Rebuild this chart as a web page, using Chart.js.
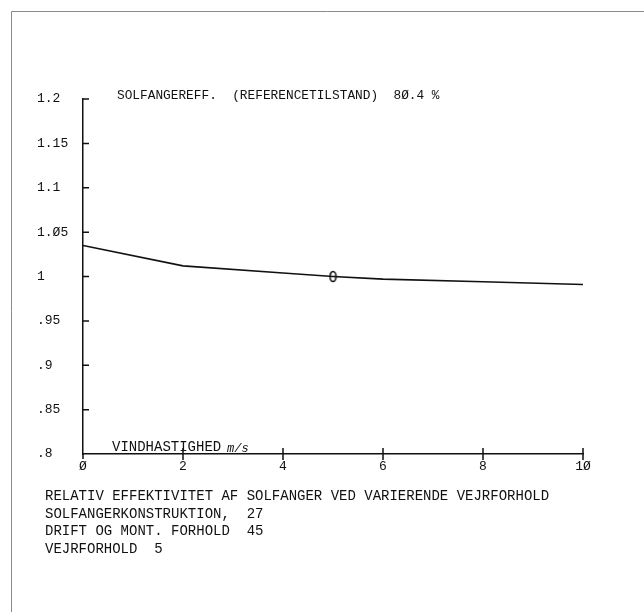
<!DOCTYPE html>
<html>
<head>
<meta charset="utf-8">
<script src="https://cdn.jsdelivr.net/npm/chart.js@4"></script>
<style>
  html, body { margin: 0; padding: 0; background: #fff; }
  #wrap { position: relative; width: 644px; height: 612px; }
</style>
</head>
<body>
<div id="wrap"><canvas id="chart"></canvas></div>
<script>
// vindhastighed (m/s) og relativ effektivitet
const speeds = [0, 2, 4, 5, 6, 8, 10];
const efficiency = [1.035, 1.012, 1.004, 1.0, 0.997, 0.994, 0.991];
const refSpeed = [5];
const refValue = [1.0];
const xTickValues = [0, 2, 4, 6, 8, 10];
const xTickLabels = ['Ø', '2', '4', '6', '8', '1Ø'];
const yTickValues = [1.2, 1.15, 1.1, 1.05, 1, 0.95, 0.9, 0.85, 0.8];
const yTickLabels = ['1.2', '1.15', '1.1', '1.Ø5', '1', '.95', '.9', '.85', '.8'];
const titleText = 'SOLFANGEREFF.  (REFERENCETILSTAND)  8Ø.4 %';
const footerLines = [
  'RELATIV EFFEKTIVITET AF SOLFANGER VED VARIERENDE VEJRFORHOLD',
  'SOLFANGERKONSTRUKTION,  27',
  'DRIFT OG MONT. FORHOLD  45',
  'VEJRFORHOLD  5'
];

const ink = '#111';
const mono = '"Liberation Mono", "DejaVu Sans Mono", monospace';

// lille oval markør (som et "0")
const oval = document.createElement('canvas');
oval.width = 9; oval.height = 13;
const oc = oval.getContext('2d');
oc.strokeStyle = ink;
oc.lineWidth = 1.6;
oc.beginPath();
oc.ellipse(4.5, 6.5, 3, 5, 0, 0, Math.PI * 2);
oc.stroke();

// tegner tickmærker, titel, tekst og ramme
const decor = {
  id: 'decor',
  afterDraw(chart) {
    const ctx = chart.ctx;
    const xs = chart.scales.x, ys = chart.scales.y;
    const x0 = xs.getPixelForValue(0);
    const yBase = ys.getPixelForValue(0.8);
    ctx.save();
    ctx.strokeStyle = ink;
    ctx.lineWidth = 1.5;
    ctx.beginPath();
    yTickValues.forEach(v => {
      if (v === 0.8) return;
      const y = ys.getPixelForValue(v);
      ctx.moveTo(x0, y);
      ctx.lineTo(x0 + 6, y);
    });
    xTickValues.forEach(v => {
      if (v === 0) return;
      const x = xs.getPixelForValue(v);
      ctx.moveTo(x, yBase - 6);
      ctx.lineTo(x, yBase + 6);
    });
    ctx.moveTo(x0, yBase);
    ctx.lineTo(x0, yBase + 5);
    ctx.stroke();

    // ramme
    ctx.strokeStyle = '#8a8a8a';
    ctx.lineWidth = 1;
    ctx.beginPath();
    ctx.moveTo(11.5, 612);
    ctx.lineTo(11.5, 11.5);
    ctx.lineTo(644, 11.5);
    ctx.stroke();

    ctx.fillStyle = ink;
    ctx.textBaseline = 'alphabetic';
    ctx.textAlign = 'left';
    ctx.font = '12.8px ' + mono;
    ctx.fillText(titleText, 117, 99);

    ctx.font = '14px ' + mono;
    ctx.fillText('VINDHASTIGHED', 112, 451);
    ctx.font = 'italic 12px ' + mono;
    ctx.fillText('m/s', 227, 452);

    ctx.font = '14px ' + mono;
    footerLines.forEach((t, i) => ctx.fillText(t, 45, 500 + i * 17.5));
    ctx.restore();
  }
};

new Chart(document.getElementById('chart'), {
  type: 'line',
  data: {
    datasets: [
      {
        data: speeds.map((s, i) => ({ x: s, y: efficiency[i] })),
        borderColor: ink,
        borderWidth: 1.6,
        pointRadius: 0,
        tension: 0,
        fill: false
      },
      {
        data: refSpeed.map((s, i) => ({ x: s, y: refValue[i] })),
        showLine: false,
        pointStyle: oval,
        pointRadius: 6
      }
    ]
  },
  options: {
    responsive: true,
    maintainAspectRatio: false,
    animation: false,
    layout: { padding: { left: 37, right: 61, top: 99, bottom: 138 } },
    plugins: { legend: { display: false }, tooltip: { enabled: false } },
    scales: {
      x: {
        type: 'linear',
        min: 0,
        max: 10,
        afterBuildTicks: s => { s.ticks = xTickValues.map(v => ({ value: v })); },
        afterFit: s => { s.height = 20; },
        grid: { display: false, drawTicks: false },
        border: { color: ink, width: 1.5 },
        ticks: {
          color: ink,
          font: { family: mono, size: 13 },
          padding: 5,
          maxRotation: 0,
          callback: (v, i) => xTickLabels[i]
        }
      },
      y: {
        min: 0.8,
        max: 1.2,
        afterBuildTicks: s => { s.ticks = yTickValues.slice().reverse().map(v => ({ value: v })); },
        afterFit: s => { s.width = 46; },
        grid: { display: false, drawTicks: false },
        border: { color: ink, width: 1.5 },
        ticks: {
          color: ink,
          crossAlign: 'far',
          font: { family: mono, size: 13 },
          callback: (v, i) => yTickLabels[yTickLabels.length - 1 - i]
        }
      }
    }
  },
  plugins: [decor]
});
</script>
</body>
</html>
